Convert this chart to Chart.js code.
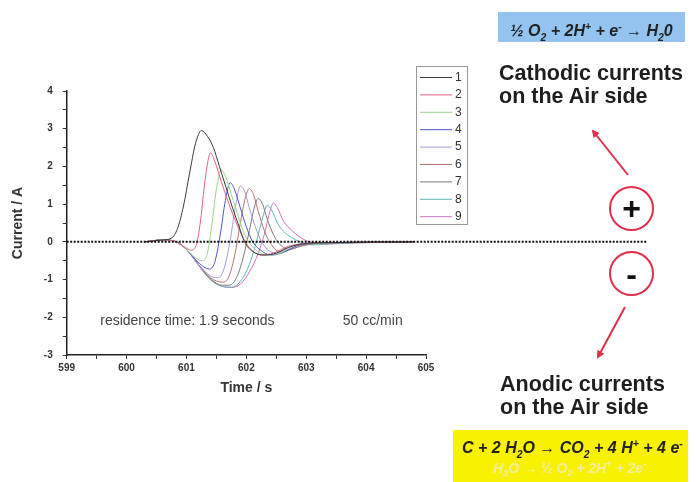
<!DOCTYPE html>
<html>
<head>
<meta charset="utf-8">
<script src="https://cdn.jsdelivr.net/npm/chart.js@4.4.1/dist/chart.umd.min.js"></script>
<style>
    body { margin: 0; background: #fff; }
    #wrap { position: relative; width: 696px; height: 482px; overflow: hidden; }
    #wrap canvas { position: absolute; left: 0; top: 0; }
    .note { position: absolute; color: #1e1e1e; font-family: "Liberation Sans", Arial, sans-serif; font-weight: bold; white-space: nowrap; }
    .formula { position: absolute; font-family: "Liberation Sans Narrow", "Arial Narrow", "Liberation Sans", sans-serif; font-style: italic; font-weight: bold; white-space: nowrap; color: #222; }
    .formula sub, .formula sup { font-size: 65%; }
    .ring { position: absolute; width: 41px; height: 41px; border: 2px solid #e0304a; border-radius: 50%;
            display: flex; align-items: center; justify-content: center;
            font-family: "Liberation Sans", Arial, sans-serif; font-weight: bold; color: #111; }
    svg { position: absolute; left: 0; top: 0; }
</style>
</head>
<body>
<div id="wrap">
    <canvas id="chart" width="696" height="482"></canvas>

    <div class="formula" style="left:498px; top:12px; width:187px; height:30px; line-height:30px; background:#93c4f0; font-size:16px; text-align:center;">
        ½ O<sub>2</sub> + 2H<sup>+</sup> + e<sup>-</sup> → H<sub>2</sub>0
    </div>
    <div class="note" style="left:499px; top:62px; font-size:21.5px; line-height:22.5px;">Cathodic currents<br>on the Air side</div>

    <div class="ring" style="left:609px; top:186px; font-size:32px;">+</div>
    <div class="ring" style="left:609px; top:251px; font-size:32px; line-height:30px;">-</div>

    <svg width="696" height="482">
        <defs>
            <marker id="head" markerWidth="8" markerHeight="8" refX="6" refY="4" orient="auto" markerUnits="userSpaceOnUse">
                <path d="M0,0 L8,4 L0,8 z" fill="#e0304a"></path>
            </marker>
        </defs>
        <line x1="628" y1="175" x2="593" y2="131" stroke="#e0304a" stroke-width="2" marker-end="url(#head)"></line>
        <line x1="625" y1="307" x2="598" y2="357" stroke="#e0304a" stroke-width="2" marker-end="url(#head)"></line>
    </svg>

    <div class="note" style="left:500px; top:373px; font-size:21.5px; line-height:23px;">Anodic currents<br>on the Air side</div>

    <div style="position:absolute; left:453px; top:430px; width:235px; height:52px; background:#f8f200;">
        <div class="formula" style="left:9px; top:8px; font-size:16px;">
            C + 2 H<sub>2</sub>O → CO<sub>2</sub> + 4 H<sup>+</sup> + 4 e<sup>-</sup>
        </div>
        <div class="formula" style="left:40px; top:29px; font-size:14px; color:#f0ee9e;">
            H<sub>2</sub>O → ½ O<sub>2</sub> + 2H<sup>+</sup> + 2e<sup>-</sup>
        </div>
    </div>
</div>

<script>
// time (s) and current (A) for the nine runs
var seriesLabels = ["1", "2", "3", "4", "5", "6", "7", "8", "9"];

var t1 = [600.3, 600.6, 600.75, 600.85, 600.95, 601.05, 601.15, 601.25, 601.35, 601.45, 601.55, 601.66, 601.77, 601.88, 601.97, 602.1, 602.3, 602.5, 602.7, 602.95, 603.4, 604.8];
var i1 = [0, 0.05, 0.1, 0.35, 0.95, 1.8, 2.6, 2.95, 2.8, 2.5, 2.0, 1.45, 0.9, 0.4, 0.0, -0.25, -0.35, -0.3, -0.15, -0.05, -0.02, 0];

var t2 = [600.3, 600.6, 600.8, 600.95, 601.08, 601.16, 601.23, 601.3, 601.36, 601.4, 601.47, 601.58, 601.7, 601.82, 601.95, 602.05, 602.25, 602.45, 602.7, 603.0, 603.5, 604.8];
var i2 = [0, 0.05, 0.02, -0.12, -0.22, -0.1, 0.5, 1.5, 2.15, 2.36, 2.15, 1.6, 1.05, 0.55, 0.1, -0.15, -0.35, -0.3, -0.12, -0.04, -0.02, 0];

var t3 = [600.3, 600.6, 600.8, 601.0, 601.15, 601.27, 601.35, 601.42, 601.5, 601.58, 601.65, 601.75, 601.88, 602.0, 602.15, 602.35, 602.55, 602.8, 603.1, 603.6, 604.8];
var i3 = [0, 0.05, 0.02, -0.2, -0.42, -0.5, -0.3, 0.4, 1.4, 1.9, 1.75, 1.25, 0.6, 0.1, -0.2, -0.35, -0.3, -0.1, -0.03, -0.02, 0];

var t4 = [600.3, 600.6, 600.8, 601.0, 601.2, 601.38, 601.47, 601.56, 601.65, 601.73, 601.8, 601.9, 602.0, 602.1, 602.22, 602.42, 602.62, 602.85, 603.2, 603.7, 604.8];
var i4 = [0, 0.05, 0.02, -0.2, -0.55, -0.72, -0.55, 0.15, 1.1, 1.57, 1.4, 0.9, 0.4, 0.02, -0.2, -0.35, -0.28, -0.1, -0.03, -0.02, 0];

var t5 = [600.3, 600.6, 600.8, 601.0, 601.2, 601.4, 601.52, 601.62, 601.72, 601.82, 601.9, 601.97, 602.05, 602.15, 602.25, 602.35, 602.5, 602.7, 602.95, 603.3, 604.8];
var i5 = [0, 0.05, 0.02, -0.2, -0.6, -0.9, -0.95, -0.75, -0.05, 0.95, 1.48, 1.35, 0.9, 0.4, 0.02, -0.2, -0.3, -0.2, -0.06, -0.02, 0];

var t6 = [600.3, 600.6, 600.8, 601.0, 601.2, 601.4, 601.6, 601.7, 601.8, 601.9, 601.98, 602.05, 602.12, 602.2, 602.3, 602.4, 602.55, 602.75, 603.0, 603.5, 604.8];
var i6 = [0, 0.05, 0.02, -0.2, -0.6, -0.95, -1.07, -0.95, -0.4, 0.5, 1.15, 1.41, 1.25, 0.8, 0.3, -0.03, -0.25, -0.2, -0.06, -0.02, 0];

var t7 = [600.3, 600.6, 600.8, 601.0, 601.2, 601.4, 601.6, 601.72, 601.85, 601.95, 602.05, 602.14, 602.2, 602.27, 602.35, 602.45, 602.55, 602.7, 602.9, 603.2, 604.8];
var i7 = [0, 0.05, 0.02, -0.2, -0.6, -0.98, -1.15, -1.15, -0.9, -0.4, 0.3, 0.95, 1.15, 1.0, 0.6, 0.2, -0.05, -0.2, -0.12, -0.04, 0];

var t8 = [600.3, 600.6, 600.8, 601.0, 601.2, 601.4, 601.6, 601.75, 601.9, 602.05, 602.15, 602.25, 602.35, 602.42, 602.52, 602.62, 602.75, 602.9, 603.1, 603.5, 604.8];
var i8 = [0, 0.05, 0.02, -0.2, -0.6, -1.0, -1.18, -1.2, -1.05, -0.6, -0.1, 0.5, 0.97, 0.85, 0.5, 0.28, 0.12, 0.0, -0.08, -0.04, 0];

var t9 = [600.3, 600.6, 600.8, 601.0, 601.2, 601.4, 601.6, 601.75, 601.9, 602.05, 602.2, 602.3, 602.4, 602.45, 602.52, 602.62, 602.75, 602.9, 603.05, 603.3, 603.8, 604.8];
var i9 = [0, 0.05, 0.02, -0.2, -0.62, -1.0, -1.18, -1.21, -1.12, -0.8, -0.3, 0.2, 0.85, 1.03, 0.9, 0.55, 0.32, 0.12, 0.0, -0.06, -0.03, 0];

// dotted zero reference, runs on past the axis to the +/- marks
var zeroX = [599, 608.7];
var zeroY = [0, 0];

var xTicks = [599, 600, 601, 602, 603, 604, 605];
var yTicks = [-3, -2, -1, 0, 1, 2, 3, 4];

var seriesColors = ["#3a3a3a", "#e4607e", "#9ad58a", "#4a55c8", "#a79ad8", "#b0706a", "#7a7a7a", "#5cb8b8", "#d070b8"];

function toPoints(xs, ys) {
    return xs.map(function (x, j) { return { x: x, y: ys[j] }; });
}

var times = [t1, t2, t3, t4, t5, t6, t7, t8, t9];
var currents = [i1, i2, i3, i4, i5, i6, i7, i8, i9];

var datasets = [{
    label: "",
    data: toPoints(zeroX, zeroY),
    borderColor: "#111",
    borderWidth: 2,
    borderDash: [2, 1.5],
    pointRadius: 0,
    tension: 0,
    clip: false
}];

seriesLabels.forEach(function (name, k) {
    datasets.push({
        label: name,
        data: toPoints(times[k], currents[k]),
        borderColor: seriesColors[k],
        borderWidth: 1,
        pointRadius: 0,
        tension: 0.4,
        cubicInterpolationMode: "monotone"
    });
});

var FONT = "'Liberation Sans', Arial, sans-serif";

// little boxed legend inside the plot + the two captions
var extrasPlugin = {
    id: "extras",
    afterDraw: function (chart) {
        var ctx = chart.ctx;
        var x = chart.scales.x, y = chart.scales.y;
        ctx.save();

        ctx.font = "14px " + FONT;
        ctx.fillStyle = "#444";
        ctx.textBaseline = "alphabetic";
        ctx.textAlign = "left";
        ctx.fillText("residence time: 1.9 seconds", x.getPixelForValue(599.56), y.getPixelForValue(-2.2));
        ctx.fillText("50 cc/min", x.getPixelForValue(603.61), y.getPixelForValue(-2.2));

        ctx.strokeStyle = "#999";
        ctx.lineWidth = 1;
        ctx.strokeRect(416.5, 66.5, 51, 158);
        ctx.font = "12px " + FONT;
        ctx.textBaseline = "middle";
        var row = 0;
        chart.data.datasets.forEach(function (ds) {
            if (!ds.label) return;
            var ry = 77.5 + row * 17.4;
            ctx.strokeStyle = ds.borderColor;
            ctx.beginPath();
            ctx.moveTo(420, ry);
            ctx.lineTo(452, ry);
            ctx.stroke();
            ctx.fillStyle = "#333";
            ctx.fillText(ds.label, 455, ry);
            row++;
        });
        ctx.restore();
    }
};

new Chart(document.getElementById("chart"), {
    type: "line",
    data: { datasets: datasets },
    plugins: [extrasPlugin],
    options: {
        responsive: false,
        animation: false,
        events: [],
        layout: { padding: { left: 0, top: 91, right: 270, bottom: 77 } },
        plugins: { legend: { display: false }, tooltip: { enabled: false } },
        scales: {
            x: {
                type: "linear",
                min: xTicks[0],
                max: xTicks[xTicks.length - 1],
                afterFit: function (s) { s.height = 50; },
                border: { color: "#222", width: 1.5 },
                grid: { drawOnChartArea: false, tickLength: 4, tickColor: "#333" },
                ticks: {
                    stepSize: 0.5,
                    autoSkip: false,
                    maxRotation: 0,
                    padding: 3,
                    color: "#333",
                    font: { family: FONT, size: 10, weight: "bold" },
                    callback: function (v) { return xTicks.indexOf(v) !== -1 ? String(v) : ""; }
                },
                title: { display: true, text: "Time / s", color: "#333", padding: { top: 4, bottom: 8 },
                         font: { family: FONT, size: 14, weight: "bold" } }
            },
            y: {
                min: yTicks[0],
                max: yTicks[yTicks.length - 1],
                afterFit: function (s) { s.width = 66.7; },
                border: { color: "#222", width: 1.5 },
                grid: { drawOnChartArea: false, tickLength: 4, tickColor: "#333" },
                ticks: {
                    stepSize: 0.5,
                    autoSkip: false,
                    padding: 10,
                    color: "#333",
                    font: { family: FONT, size: 10, weight: "bold" },
                    callback: function (v) { return yTicks.indexOf(v) !== -1 ? String(v) : ""; }
                },
                title: { display: true, text: "Current / A", color: "#333", padding: { top: 10, bottom: 0 },
                         font: { family: FONT, size: 14, weight: "bold" } }
            }
        }
    }
});
</script>
</body>
</html>
